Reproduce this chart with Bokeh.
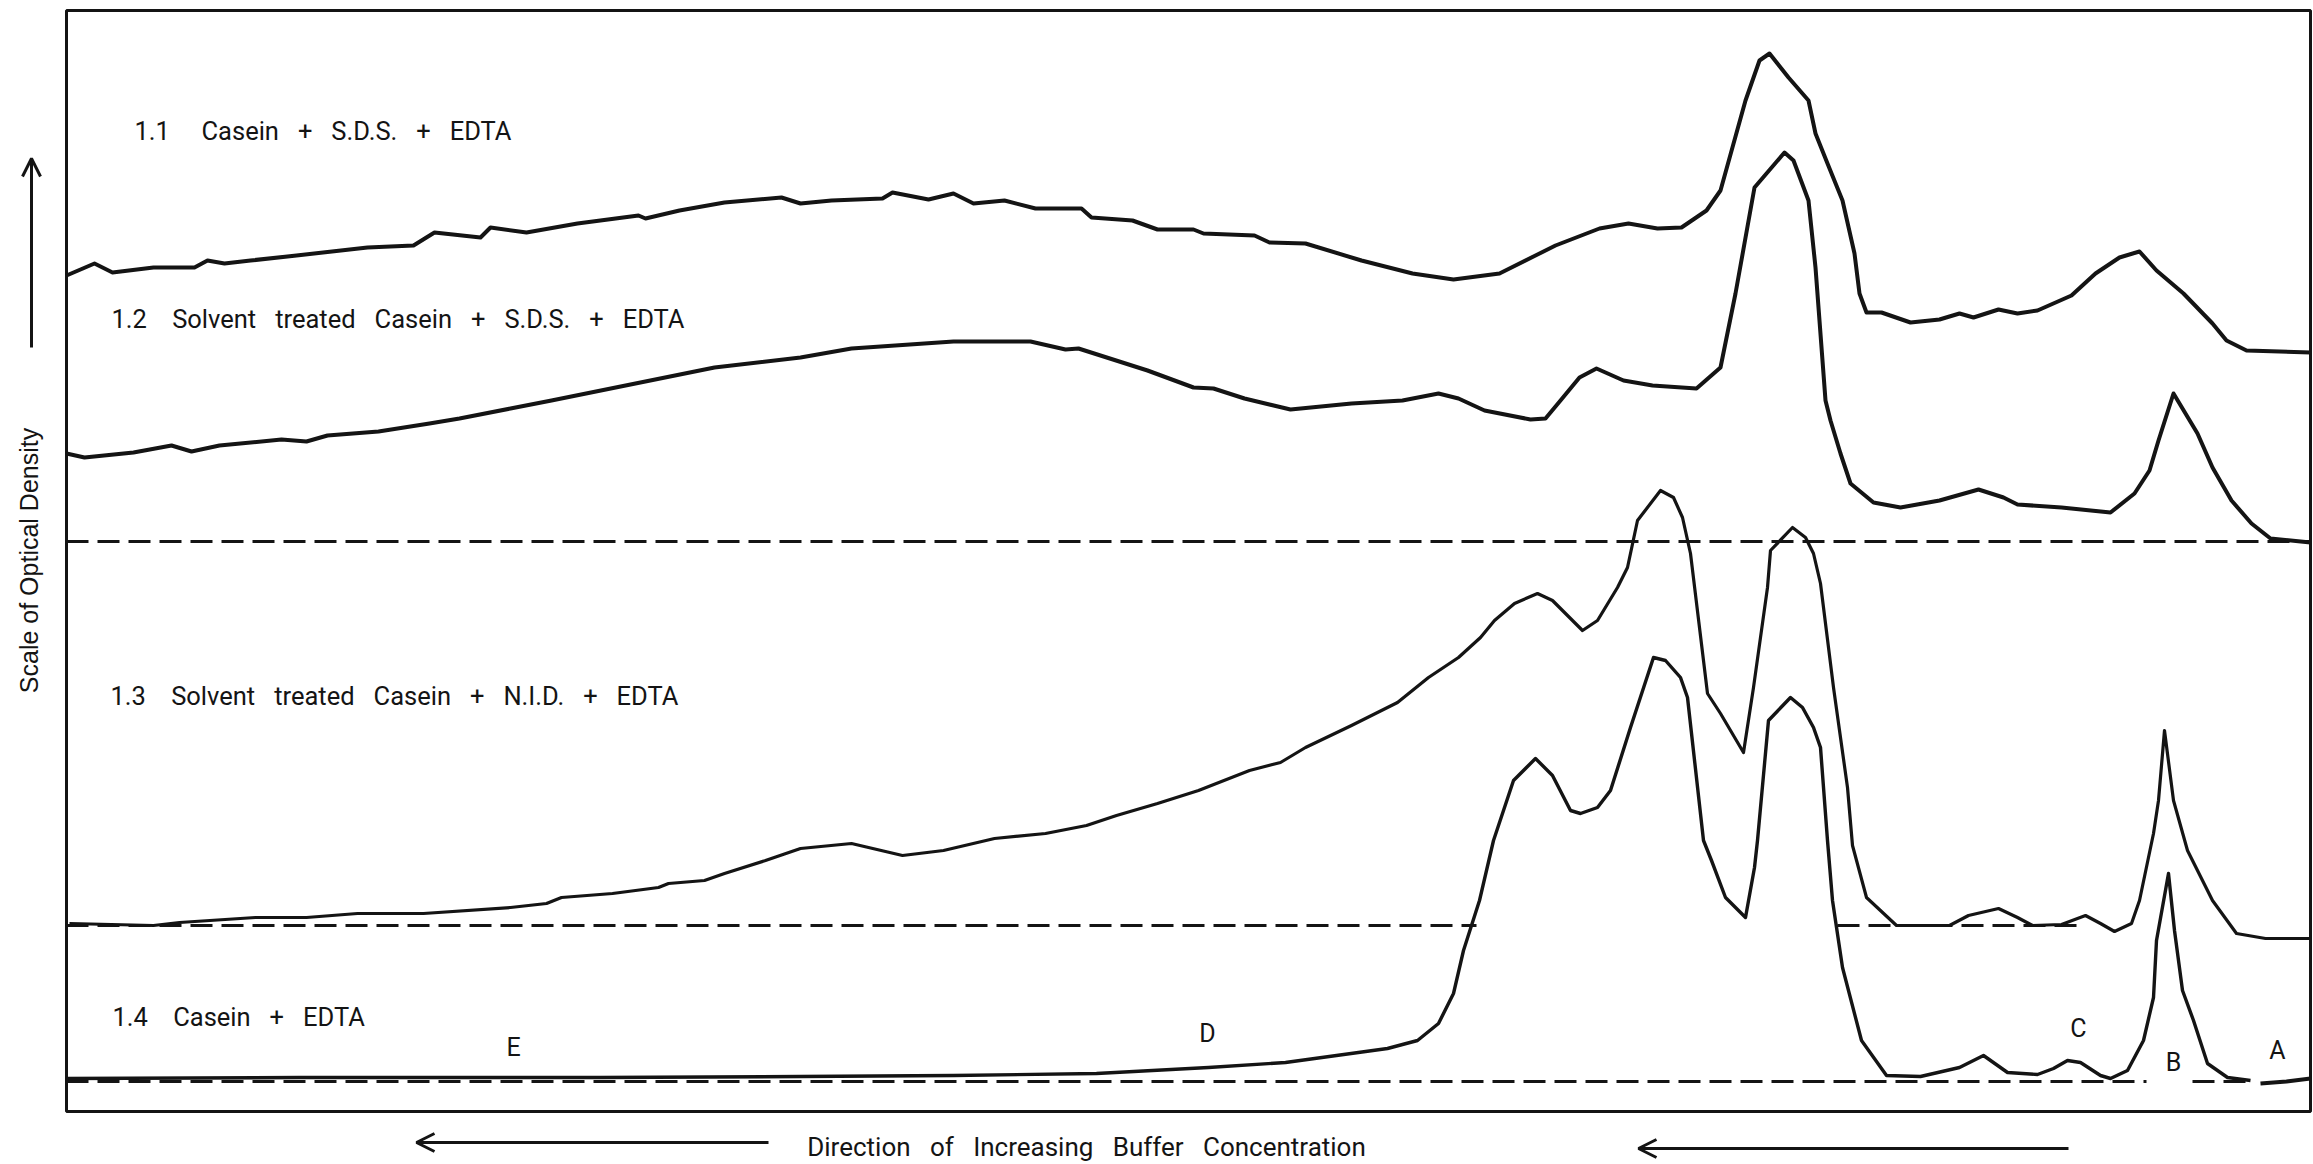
from math import pi
from bokeh.plotting import figure
from bokeh.models import Range1d, Label, Arrow, OpenHead
from bokeh.embed import file_html
from bokeh.resources import INLINE

# ---- data (x: distance along chart, y: recorder pen height / optical density, arbitrary units)
x_11 = [0, 28, 46, 87, 128, 141, 158, 184, 230, 301, 347, 368, 414, 424, 460, 511, 572, 579, 613, 658,
        715, 734, 765, 816, 826, 862, 887, 907, 938, 969, 1015, 1025, 1066, 1091, 1127, 1137, 1188, 1203,
        1239, 1295, 1346, 1387, 1433, 1469, 1489, 1533, 1562, 1591, 1615, 1640, 1654, 1679, 1693, 1703,
        1722, 1742, 1749, 1761, 1776, 1788, 1793, 1800, 1815, 1844, 1873, 1893, 1907, 1932, 1951, 1971,
        2005, 2029, 2053, 2073, 2090, 2117, 2146, 2160, 2180, 2244]
y_11 = [835, 847, 838, 843, 843, 850, 847, 850, 855, 863, 865, 878, 873, 883, 878, 887, 895, 892, 900, 908,
        913, 907, 910, 912, 918, 911, 917, 907, 910, 902, 902, 893, 890, 881, 881, 877, 875, 868,
        867, 850, 837, 831, 837, 855, 865, 882, 887, 882, 883, 900, 920, 1010, 1050, 1057,
        1033, 1010, 977, 947, 910, 857, 817, 798, 798, 788, 791, 797, 793, 801, 797, 800,
        815, 837, 853, 859, 840, 817, 787, 770, 760, 758]

x_12 = [0, 18, 67, 105, 125, 153, 215, 240, 261, 312, 363, 393, 444, 485, 648, 734, 785, 887, 964, 999,
        1012, 1081, 1127, 1147, 1178, 1224, 1285, 1336, 1372, 1392, 1418, 1464, 1479, 1494, 1513, 1530,
        1557, 1586, 1630, 1654, 1669, 1688, 1718, 1727, 1742, 1749, 1759, 1764, 1774, 1784, 1807, 1834,
        1873, 1912, 1937, 1951, 1995, 2044, 2068, 2083, 2092, 2107, 2131, 2146, 2165, 2185, 2204, 2244]
y_12 = [657, 653, 658, 665, 659, 665, 671, 669, 675, 679, 687, 692, 702, 710, 743, 753, 762, 769, 769, 761,
        762, 740, 723, 722, 712, 701, 707, 710, 717, 712, 700, 691, 692, 710, 733, 742,
        730, 725, 722, 743, 817, 923, 958, 950, 910, 843, 710, 690, 657, 627, 608, 603,
        610, 621, 613, 606, 603, 598, 617, 640, 670, 717, 677, 643, 610, 587, 572, 568]

x_13 = [3, 87, 113, 189, 240, 291, 357, 444, 480, 495, 546, 592, 602, 638, 658, 699, 734, 785, 836, 877,
        928, 979, 1020, 1050, 1091, 1132, 1183, 1214, 1239, 1285, 1331, 1362, 1392, 1414, 1428, 1448,
        1471, 1486, 1516, 1531, 1551, 1561, 1571, 1594, 1607, 1616, 1624, 1641, 1654, 1677, 1687, 1701,
        1704, 1726, 1739, 1747, 1754, 1767, 1781, 1786, 1800, 1830, 1883, 1902, 1932, 1951, 1966, 1995,
        2019, 2034, 2048, 2065, 2073, 2087, 2092, 2098, 2107, 2121, 2146, 2170, 2199, 2244]
y_13 = [187, 185, 188, 193, 193, 197, 197, 203, 207, 213, 217, 223, 227, 230, 237, 250, 262, 267, 255, 260,
        272, 277, 285, 295, 307, 320, 340, 348, 363, 385, 408, 433, 453, 473, 490, 507,
        517, 510, 480, 490, 523, 543, 590, 620, 613, 593, 557, 417, 397, 358, 423, 523,
        560, 583, 573, 557, 527, 423, 323, 265, 213, 185, 185, 195, 202, 193, 185, 186,
        195, 187, 179, 187, 210, 277, 310, 380, 310, 260, 210, 177, 172, 172]

x_14 = [0, 234, 534, 734, 887, 1030, 1142, 1219, 1270, 1321, 1351, 1372, 1387, 1397, 1413, 1427, 1447,
        1469, 1486, 1504, 1514, 1531, 1544, 1564, 1587, 1599, 1614, 1621, 1637, 1645, 1659, 1679, 1688,
        1691, 1702, 1724, 1736, 1747, 1754, 1761, 1766, 1776, 1795, 1820, 1854, 1893, 1917, 1941, 1971,
        1987, 2001, 2014, 2034, 2044, 2061, 2077, 2087, 2090, 2102, 2108, 2116, 2127, 2141, 2161, 2184]
y_14 = [32, 33, 33, 34, 35, 37, 43, 48, 55, 62, 70, 87, 117, 160, 210, 270, 330,
        352, 335, 300, 297, 303, 320, 383, 453, 450, 433, 413, 270, 250, 213, 193, 243,
        270, 390, 413, 403, 383, 363, 270, 210, 143, 70, 35, 34, 43, 55, 38, 36,
        42, 50, 48, 35, 32, 40, 70, 113, 170, 237, 180, 120, 90, 47, 33, 30]
x_14_tail = [2194, 2220, 2244]
y_14_tail = [27, 29, 32]

# dashed baselines: (y level, list of x spans)
base_12 = (569, [(0, 2244)])
base_13 = (185, [(0, 1410), (1771, 2014)])
base_14 = (29, [(0, 2080), (2126, 2184)])

series_labels = [
    ("1.1", ["Casein", "+", "S.D.S.", "+", "EDTA"], 68, 980),
    ("1.2", ["Solvent", "treated", "Casein", "+", "S.D.S.", "+", "EDTA"], 45, 792),
    ("1.3", ["Solvent", "treated", "Casein", "+", "N.I.D.", "+", "EDTA"], 44, 415),
    ("1.4", ["Casein", "+", "EDTA"], 46, 94),
]
peak_letters = ["E", "D", "C", "B", "A"]
peak_x = [447, 1141, 2012, 2107, 2211]
peak_y = [63, 77, 82, 48, 60]

y_title = ["Scale", "of", "Optical", "Density"]
x_title = ["Direction", "of", "Increasing", "Buffer", "Concentration"]

NB = "\u00a0"
def join(words, n):
    return (" " + NB * (n - 1)).join(words)

# ---- figure (page has no margin: figure covers the whole window)
p = figure(width=2313, height=1164, x_range=Range1d(-66, 2247), y_range=Range1d(-54, 1110),
           output_backend="svg", toolbar_location=None, min_border=0,
           x_axis_type=None, y_axis_type=None)
p.grid.visible = False
p.outline_line_color = None
p.background_fill_color = "white"
p.border_fill_color = "white"

ink = "#141414"
# frame
p.quad(left=[0], right=[2244], bottom=[-1], top=[1100], fill_color=None, line_color=ink, line_width=3)

# baselines
for lvl, spans in (base_12, base_13, base_14):
    p.multi_line(xs=[[a, b] for a, b in spans], ys=[[lvl, lvl] for _ in spans],
                 line_color=ink, line_width=3, line_dash="22 9")

# traces
p.line(x_11, y_11, line_color=ink, line_width=4, line_join="round")
p.line(x_12, y_12, line_color=ink, line_width=4, line_join="round")
p.line(x_13, y_13, line_color=ink, line_width=3.2, line_join="round")
p.line(x_14, y_14, line_color=ink, line_width=3.4, line_join="round")
p.line(x_14_tail, y_14_tail, line_color=ink, line_width=4)

# series labels
for num, words, lx, ly in series_labels:
    gap = 5 if num == "1.1" else 4
    txt = num + " " + NB * (gap - 1) + join(words, 3)
    p.add_layout(Label(x=lx, y=ly, text=txt, text_font="Roboto", text_font_size="25.5px",
                       text_color=ink, text_align="left", text_baseline="middle"))

for t, lx, ly in zip(peak_letters, peak_x, peak_y):
    p.add_layout(Label(x=lx, y=ly, text=t, text_font="Roboto", text_font_size="25px",
                       text_color=ink, text_align="center", text_baseline="middle"))

# axis titles and arrows
p.add_layout(Label(x=-38, y=550, text=" ".join(y_title), angle=pi / 2, text_font="Liberation Sans",
                   text_font_size="25px", text_color=ink, text_align="center", text_baseline="middle"))
p.add_layout(Arrow(x_start=-35, y_start=763, x_end=-35, y_end=952, line_width=3, line_color=ink,
                   end=OpenHead(size=18, line_width=3, line_color=ink)))

p.add_layout(Label(x=1020, y=-36, text=join(x_title, 3), text_font="Roboto", text_font_size="26px",
                   text_color=ink, text_align="center", text_baseline="middle"))
p.add_layout(Arrow(x_start=702, y_start=-32, x_end=350, y_end=-32, line_width=3, line_color=ink,
                   end=OpenHead(size=18, line_width=3, line_color=ink)))
p.add_layout(Arrow(x_start=2002, y_start=-38, x_end=1572, y_end=-38, line_width=3, line_color=ink,
                   end=OpenHead(size=18, line_width=3, line_color=ink)))

open("out.html", "w").write(file_html(p, INLINE))
